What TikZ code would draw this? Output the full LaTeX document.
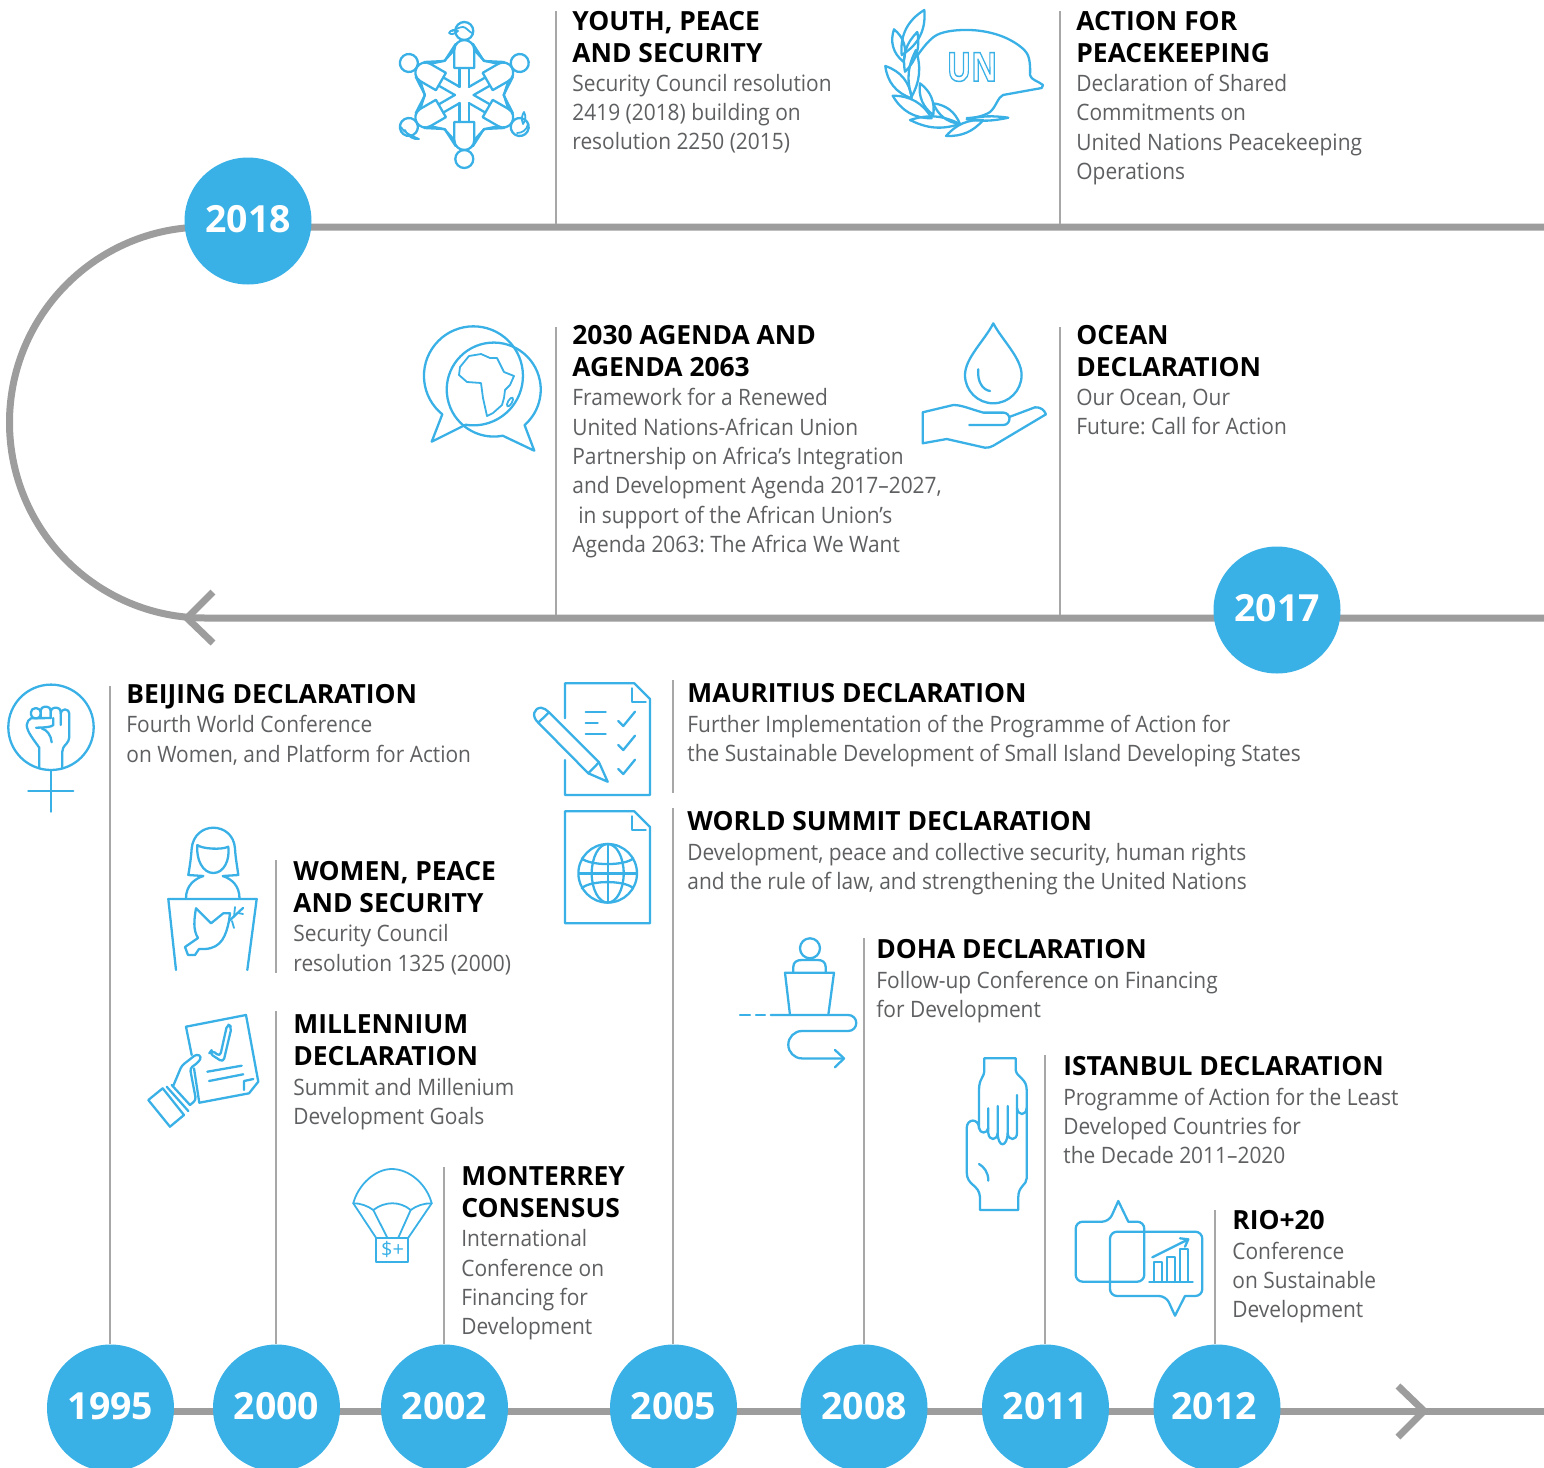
\documentclass[tikz,border=0pt]{standalone}
\usepackage{fontspec}
\setmainfont{Open Sans}
\newfontfamily\bodyfont[FakeStretch=0.925]{Open Sans}
\usepackage{xcolor}
\usetikzlibrary{backgrounds,calc,positioning}
\definecolor{unblue}{HTML}{3AB1E6}
\definecolor{linegray}{HTML}{9D9D9D}
\definecolor{bodygray}{HTML}{5E5F61}
\tikzset{
  yearnode/.style={circle,fill=unblue,text=white,inner sep=0pt,minimum size=63.5pt,text depth=2pt,font=\fontsize{18.7}{20}\selectfont\bfseries},
  headline/.style={anchor=north west,inner sep=0pt,xshift=-.5pt,align=left,text=black,font=\fontsize{13.2}{16}\selectfont\bfseries,execute at begin node=\strut,execute at end node=\strut},
  bodytext/.style={anchor=north west,inner sep=0pt,yshift=-.85pt,align=left,text=bodygray,font=\bodyfont\fontsize{11.3}{14.65}\selectfont\frenchspacing,execute at begin node=\strut,execute at end node=\strut},
  mainline/.style={draw=linegray,line width=3.5pt},
  vline/.style={draw=linegray!90!white,line width=1pt},
  iconline/.style={draw=unblue,line width=1.15pt,line cap=round,line join=round},
  thinline/.style={draw=unblue,line width=.9pt,line cap=round,line join=round},
}
\begin{document}
\begin{tikzpicture}[x=0.5pt,y=-0.5pt]
    \useasboundingbox (0,0) rectangle (1544,1468);

    % years
    \node[yearnode] (y2018) at (248,221) {2018};
    \node[yearnode] (y2017) at (1277,610) {2017};
    \node[yearnode] (y1995) at (110.5,1408) {1995};
    \node[yearnode] (y2000) at (276.5,1408) {2000};
    \node[yearnode] (y2002) at (444.5,1408) {2002};
    \node[yearnode] (y2005) at (673.5,1408) {2005};
    \node[yearnode] (y2008) at (864,1408) {2008};
    \node[yearnode] (y2011) at (1045.5,1408) {2011};
    \node[yearnode] (y2012) at (1217,1408) {\hspace*{-3pt}2012};

    % timeline, behind the years
    \coordinate (rightTop) at (1544,227);
    \coordinate (rightMid) at (1544,618);
    \coordinate (tipMid) at (187,618);
    \coordinate (tipBottom) at (1424,1411);
    \coordinate (startBottom) at (110,1411);
    \begin{scope}[on background layer]
        \draw[mainline] (rightTop) -- (205,227) arc[start angle=270,end angle=90,radius=195.5] -- (rightMid);
        \draw[mainline] (213,592) -- (tipMid) -- (213,643);
        \draw[mainline] (startBottom) -- (1544,1411);
        \draw[mainline] (1398,1386) -- (tipBottom) -- (1398,1437);
    \end{scope}

    % vertical rules
    \foreach \xv/\ya/\yb [count=\i] in {556/11/224, 1060/11/224, 556/327/615, 1060/327/615, 276/860/973, 673/680/793}{
        \coordinate (va\i) at (\xv,\ya);
        \coordinate (vb\i) at (\xv,\yb);
        \draw[vline] (va\i) -- (vb\i);
    }
    \coordinate (v1995) at (110,686);
    \coordinate (v2000) at (276,1011);
    \coordinate (v2002) at (443.5,1167);
    \coordinate (v2005) at (673,808);
    \coordinate (v2008) at (864,938);
    \coordinate (v2011) at (1045,1055);
    \coordinate (v2012) at (1214.5,1210);
    \foreach \n in {1995,2000,2002,2005,2008,2011,2012}{
        \draw[vline] (v\n) -- (v\n |- y\n.north);
    }

    % texts
    \node[headline] (tYouth) at (573,10.5) {YOUTH, PEACE\\AND SECURITY};
    \node[bodytext] (dYouth) at (tYouth.south west) {Security Council resolution\\2419 (2018) building on\\resolution 2250 (2015)};
    \node[headline] (tAction) at (1077,10.5) {ACTION FOR\\PEACEKEEPING};
    \node[bodytext] (dAction) at (tAction.south west) {Declaration of Shared\\Commitments on\\United Nations Peacekeeping\\Operations};
    \node[headline] (tAgenda) at (573,325) {2030 AGENDA AND\\AGENDA 2063};
    \node[bodytext] (dAgenda) at (tAgenda.south west) {Framework for a Renewed\\United Nations-African Union\\Partnership on Africa’s Integration\\and Development Agenda 2017–2027,\\\hspace*{3pt}in support of the African Union’s\\Agenda 2063: The Africa We Want};
    \node[headline] (tOcean) at (1077,325) {OCEAN\\DECLARATION};
    \node[bodytext] (dOcean) at (tOcean.south west) {Our Ocean, Our\\Future: Call for Action};
    \node[headline] (tBeijing) at (127,680.5) {BEIJING DECLARATION};
    \node[bodytext] (dBeijing) at (tBeijing.south west) {Fourth World Conference\\on Women, and Platform for Action};
    \node[headline] (tWomen) at (294,861) {WOMEN, PEACE\\AND SECURITY};
    \node[bodytext] (dWomen) at (tWomen.south west) {Security Council\\resolution 1325 (2000)};
    \node[headline] (tMill) at (294,1014.5) {MILLENNIUM\\DECLARATION};
    \node[bodytext] (dMill) at (tMill.south west) {Summit and Millenium\\Development Goals};
    \node[headline] (tMont) at (462,1166) {MONTERREY\\CONSENSUS};
    \node[bodytext] (dMont) at (tMont.south west) {International\\Conference on\\Financing for\\Development};
    \node[headline] (tMaur) at (688,680) {MAURITIUS DECLARATION};
    \node[bodytext] (dMaur) at (tMaur.south west) {Further Implementation of the Programme of Action for\\the Sustainable Development of Small Island Developing States};
    \node[headline] (tWorld) at (688,808) {WORLD SUMMIT DECLARATION};
    \node[bodytext] (dWorld) at (tWorld.south west) {Development, peace and collective security, human rights\\and the rule of law, and strengthening the United Nations};
    \node[headline] (tDoha) at (877,936) {DOHA DECLARATION};
    \node[bodytext] (dDoha) at (tDoha.south west) {Follow-up Conference on Financing\\for Development};
    \node[headline] (tIst) at (1064,1053) {ISTANBUL DECLARATION};
    \node[bodytext] (dIst) at (tIst.south west) {Programme of Action for the Least\\Developed Countries for\\the Decade 2011–2020};
    \node[headline] (tRio) at (1233,1207) {RIO+20};
    \node[bodytext] (dRio) at (tRio.south west) {Conference\\on Sustainable\\Development};

    % youth icon
    \foreach \a in {0,60,...,300}{
        \begin{scope}[shift={(464.3,95)},rotate=\a]
            \draw[iconline] (0,-64) circle (9);
            \draw[iconline] (-10,-27) -- (10,-27) -- (10,-45) .. controls (10,-51) and (5,-55) .. (0,-55) .. controls (-5,-55) and (-10,-51) .. (-10,-45) -- cycle;
            \draw[iconline] (-4.7,-27) -- (-4.7,-8) (4.7,-27) -- (4.7,-8);
            \draw[iconline] (-10,-45) -- (-20,-34) -- (-40,-33) (10,-45) -- (20,-34) -- (40,-33);
        \end{scope}
    }
    \draw[thinline] (452,31) .. controls (456,29) and (460,27) .. (463,27) .. controls (466,27) and (468,31) .. (472,33);
    \draw[thinline] (449,33) .. controls (450,30) and (455,29) .. (458,31) .. controls (455,34) and (451,35) .. (449,33);
    \draw[thinline] (401,127) .. controls (405,134) and (413,136) .. (419,139) .. controls (414,140) and (408,137) .. (405,130);
    \draw[thinline] (523,124) .. controls (521,119) and (522,115) .. (524,112) .. controls (526,116) and (526,120) .. (523,124);
    \draw[thinline] (517,133) .. controls (522,133) and (527,130) .. (528,124);

    % helmet icon
    \draw[iconline] plot[smooth,tension=.6] coordinates {(916.7,56.7) (936.7,35) (970,30) (1003,36.7) (1026.7,53) (1030,75)};
    \draw[iconline] (1030,75) .. controls (1031,80) and (1038,81) .. (1043,85) -- (1041.7,88) -- (1003,95) .. controls (998,97) and (996,107) .. (990,112) .. controls (984,116) and (975,118) .. (966.7,118);
    \node[inner sep=0pt,text=unblue,font=\fontsize{20}{22}\selectfont\bfseries] (unmark) at (972,67) {\special{pdf:code q 1 Tr 0.75 w}\scalebox{.8}[1]{UN}\special{pdf:code Q}};
    \foreach \bx/\by/\tx/\ty/\bd in {901.7/55/924.3/10/32, 903.3/61.7/894/29.3/35, 905/71.7/917.3/32/28, 911.7/98.3/885.3/66/32, 911.7/96.7/916/50/22, 931.7/118.3/892.7/95.7/30, 933.3/115/920/83.3/30, 960/124/933.3/103.3/30, 960/124/910/120/22, 983.3/120/946/136/25, 966.7/119.3/1008.3/117.7/10}{
        \draw[iconline] (\bx,\by) to[bend left=\bd] (\tx,\ty) to[bend left=\bd] cycle;
    }

    % africa icon
    \draw[iconline] (442.3,414.3) arc[start angle=129,end angle=459,radius=49.5] -- (431.7,441.7) -- cycle;
    \draw[iconline] (502.7,435.7) arc[start angle=79,end angle=409,radius=47] -- (534.3,450.7) -- cycle;
    \draw[thinline] (460,367) -- (469,356) -- (481,354) -- (490,358) -- (497,358) -- (504,372) -- (514,376) -- (510,385) -- (505,390) -- (504,398) -- (502,405) -- (493,413) -- (487,416) -- (483,398) -- (481,383) -- (467,382) -- (459,375) -- cycle;
    \draw[thinline,rotate around={60:(510,402)}] (510,402) ellipse (5 and 2);

    % water icon
    \draw[iconline] (993.3,323.3) .. controls (985,340) and (965,358) .. (965,375) arc[start angle=180,end angle=0,radius=28.3] .. controls (1021.6,358) and (1002,340) .. (993.3,323.3);
    \draw[iconline] (978.3,369.3) .. controls (977,382) and (983,390) .. (990,391);
    \draw[iconline] (969.3,425) -- (1003.3,425) arc[start angle=90,end angle=-90,radius=6.2] -- (983.3,412.6) .. controls (970,409) and (962,405) .. (953.3,405) -- (922.7,412.3) -- (922.7,443.3) -- (946.7,439) -- (985,447.7) .. controls (988,448) and (991,447) .. (993.3,445.7) -- (1046,414.3) .. controls (1044,410) and (1041,407) .. (1035,407.3) -- (1010,416.7);

    % fist icon
    \draw[iconline] (51,727.3) circle (42.7);
    \draw[iconline] (51,770) -- (51,811.7) (28.3,790.7) -- (73.3,790.7);
    \draw[iconline,rounded corners=2pt] (31,718.3) -- (31,708.3) -- (40.7,708.3) -- (40.7,718.3) -- cycle;
    \draw[iconline,rounded corners=2pt] (40.7,718) -- (40.7,706.7) -- (50.7,706.7) -- (50.7,718);
    \draw[iconline,rounded corners=2pt] (50.7,718) -- (50.7,707.7) -- (60.7,707.7) -- (60.7,725);
    \draw[iconline] (39.3,768.3) -- (39.3,747.7) .. controls (34,740) and (27,732) .. (26.7,725) .. controls (27,722) and (29,719) .. (31,718.3) -- (50.7,718);
    \draw[iconline,rounded corners=2pt] (60.7,712) -- (60.7,709.5) -- (69.3,709.5) -- (69.3,741) -- (62.3,747.7) -- (62.3,768.3);
    \draw[iconline] (53.3,718) -- (53.3,725) .. controls (52,727) and (45,727.5) .. (36,727.7);
    \draw[iconline] (41.7,728.3) .. controls (47,730) and (51,735) .. (51.7,742.3);

    % woman icon
    \draw[iconline] (203.3,876) -- (188.3,875) .. controls (190,865) and (191,858) .. (191.7,848.3) .. controls (193,835) and (203,827.7) .. (213.3,827.7) .. controls (224,827.7) and (234,835) .. (235,848.3) .. controls (235.5,858) and (237,865) .. (238.3,875) -- (223,876);
    \draw[iconline] (197.3,845) .. controls (202,849) and (222,850) .. (228.3,846.7) .. controls (230,860) and (224,873) .. (213.3,873) .. controls (203,873) and (196,860) .. (197.3,845) -- cycle;
    \draw[iconline] (203.3,876) .. controls (194,879) and (186,886) .. (186,898.3);
    \draw[iconline] (222.7,876) .. controls (232,879) and (239.5,886) .. (239.5,898.3);
    \draw[iconline] (176,970) -- (168.3,899) -- (256.7,899) -- (247.3,970);
    \draw[iconline] (196,908.3) -- (211,923.3) -- (223.3,913.3) -- (230,913.3) -- (229,921) .. controls (226,935) and (222,948) .. (205,949) -- (199,949) -- (195,955) -- (188,955) -- (185,947) -- (198,938) .. controls (193,930) and (194,920) .. (196,908.3);
    \draw[iconline] (229,921) -- (243,908);
    \draw[thinline] (234,917) -- (235,907) (238,913) -- (243,914) (232,921) -- (234,928);

    % checklist icon
    \draw[iconline] (565,718.3) -- (565,683.3) -- (634.3,683.3) -- (650,699) -- (650,795) -- (565,795) -- (565,760);
    \draw[iconline] (631.7,688.3) -- (631.7,701.7) -- (645.7,701.7);
    \draw[iconline] (585.7,712.3) -- (605.7,712.3) (585.7,723.3) -- (597.7,723.3) (585.7,734) -- (605.7,734);
    \foreach \dy in {0,24,48}{
        \draw[iconline] (618.3,721+\dy) -- (623.3,726+\dy) -- (635,711.7+\dy);
    }
    \draw[iconline] (538.3,722.7) -- (588.3,773.3) -- (607.7,781.7) -- (599,762.3) -- (549,712.3) -- cycle;
    \draw[iconline] (588.3,773.3) -- (599,762.3);
    \draw[iconline] (538.3,722.7) .. controls (531,716) and (534,708) .. (541,707.7) .. controls (544,707.5) and (546,710) .. (549,712.3);

    % globe icon
    \draw[iconline] (565,811.3) -- (634.3,811.3) -- (650,827) -- (650,923.3) -- (565,923.3) -- cycle;
    \draw[iconline] (631.7,816.3) -- (631.7,829.7) -- (645.7,829.7);
    \draw[iconline] (607.7,873.3) circle (29.3);
    \draw[iconline] (607.7,873.3) ellipse (16 and 29.3);
    \draw[iconline] (607.7,844) -- (607.7,902.6);
    \draw[draw=unblue,line width=1.5pt] (578.4,873.3) -- (637,873.3);
    \draw[iconline] (581.7,858.3) .. controls (590,866) and (625,866) .. (633.3,858.3);
    \draw[iconline] (581.7,888.3) .. controls (590,880) and (625,880) .. (633.3,888.3);

    % handed paper icon
    \draw[iconline] (191.7,1055) -- (186,1026.7) -- (246,1015) -- (258.3,1081.7) -- (249,1093.3) -- (199.3,1102.7) -- (194,1068.3);
    \draw[iconline] (244,1090) -- (244,1081) -- (253.3,1079);
    \draw[iconline,rounded corners=2pt] (209.3,1053.3) -- (223.3,1062.3) -- (231.7,1026.7) -- (227.3,1024) -- (220,1056.7) -- (211.7,1050) -- cycle;
    \draw[iconline] (207.3,1071.7) -- (241.7,1065.7) (209,1081) -- (243.3,1074.3);
    \draw[iconline,rounded corners=1.5pt] (173.3,1085.7) -- (181.7,1065.7) -- (196.7,1054) -- (201.7,1056.7) -- (198.3,1062.3) -- (190,1068.3) -- (196,1100) -- (190,1105);
    \draw[iconline] (148.3,1100) -- (162.7,1088.3) -- (184,1115) -- (170,1126.7) -- cycle;
    \draw[iconline] (166.7,1086.7) -- (188.3,1111) (171.7,1085) -- (190,1105);

    % parachute icon
    \draw[thinline] (353.3,1203.3) .. controls (358,1185) and (375,1169) .. (391.7,1169) .. controls (410,1169) and (427,1185) .. (431.7,1203.3);
    \draw[thinline] (353.3,1203.3) .. controls (360,1203) and (368,1206) .. (373.3,1210) .. controls (385,1201) and (400,1201) .. (410.7,1210) .. controls (416,1206) and (424,1203) .. (431.7,1203.3);
    \draw[thinline] (353.3,1203.3) -- (376,1237.7) (373.3,1210) -- (387.3,1237.7) (410.7,1210) -- (398.3,1237.7) (431.7,1203.3) -- (408.3,1237.7);
    \draw[thinline] (376,1237.7) rectangle (408.3,1261.7);
    \node[inner sep=0pt,text=unblue,font=\fontsize{10}{12}\selectfont] (boxmark) at (392.5,1249.5) {\$+};

    % lectern icon
    \draw[iconline] (810,948.3) circle (10);
    \draw[iconline] (793.3,972.7) -- (793.3,967) .. controls (793.3,962) and (797,960) .. (801.7,960) -- (818,960) .. controls (822,960) and (825.7,962) .. (825.7,967) -- (825.7,972.7);
    \draw[iconline] (790,1015) -- (785,972.7) -- (834,972.7) -- (828.3,1015);
    \draw[iconline] (740,1015) -- (750,1015) (756,1015) -- (765,1015);
    \draw[iconline] (770.7,1015) -- (848.3,1015) arc[start angle=-90,end angle=90,radius=8] -- (802,1031) arc[start angle=270,end angle=90,radius=13.7] -- (843.3,1058.4);
    \draw[iconline] (835,1050) -- (844,1058.4) -- (835,1067.3);

    % hands icon
    \draw[iconline] (984.3,1058.3) -- (1015.7,1058.3) -- (1015.7,1070) .. controls (1017,1078) and (1026.7,1078) .. (1026.7,1090) -- (1026.7,1178.3) .. controls (1026.7,1185) and (1018.3,1186) .. (1018.3,1197) -- (1018.3,1210) -- (980,1210) -- (980,1197) .. controls (979,1184) and (966.7,1186) .. (966.7,1172) -- (966.7,1128.3) .. controls (966.7,1118) and (979,1118) .. (979,1128.3) -- (979,1090) .. controls (979,1078) and (984.3,1078) .. (984.3,1070) -- cycle;
    \draw[iconline] (979,1164) .. controls (984,1167) and (988.3,1172) .. (988.3,1180.7);
    \draw[iconline] (979,1128) .. controls (980,1134) and (987,1134) .. (988.3,1128);
    \draw[iconline] (988.3,1108.3) -- (988.3,1133) .. controls (989,1141) and (997,1141) .. (997.7,1133) -- (997.7,1106);
    \draw[iconline] (997.7,1133) .. controls (998,1148) and (1007,1148) .. (1007.7,1133) -- (1007.7,1106);
    \draw[iconline] (1007.7,1133) .. controls (1008,1141) and (1017,1141) .. (1017,1133) -- (1017,1095);
    \draw[iconline] (1017,1108) .. controls (1018,1116) and (1026,1116) .. (1026.7,1108);

    % speech icon
    \draw[iconline,rounded corners=3.5pt] (1128.3,1221.7) -- (1144.3,1221.7) -- (1144.3,1281.7) -- (1075.7,1281.7) -- (1075.7,1221.7) -- (1109,1221.7) [sharp corners] -- (1118.3,1201) -- cycle;
    \draw[iconline,rounded corners=3.5pt] (1185,1296) -- (1202.3,1296) -- (1202.3,1231.7) -- (1110,1231.7) -- (1110,1296) -- (1166,1296) [sharp corners] -- (1175,1315.7) -- cycle;
    \draw[iconline] (1149.3,1281.7) -- (1192.7,1281.7);
    \draw[iconline] (1154,1281.7) -- (1154,1262.3) -- (1162.3,1262.3) -- (1162.3,1281.7);
    \draw[iconline] (1166.7,1281.7) -- (1166.7,1256.7) -- (1175,1256.7) -- (1175,1281.7);
    \draw[iconline] (1180,1281.7) -- (1180,1249.3) -- (1188.3,1249.3) -- (1188.3,1281.7);
    \draw[iconline] (1152.3,1257.3) -- (1188.3,1239.3) (1180,1238.3) -- (1188.3,1239.3) -- (1185,1246.7);
\end{tikzpicture}
\end{document}
